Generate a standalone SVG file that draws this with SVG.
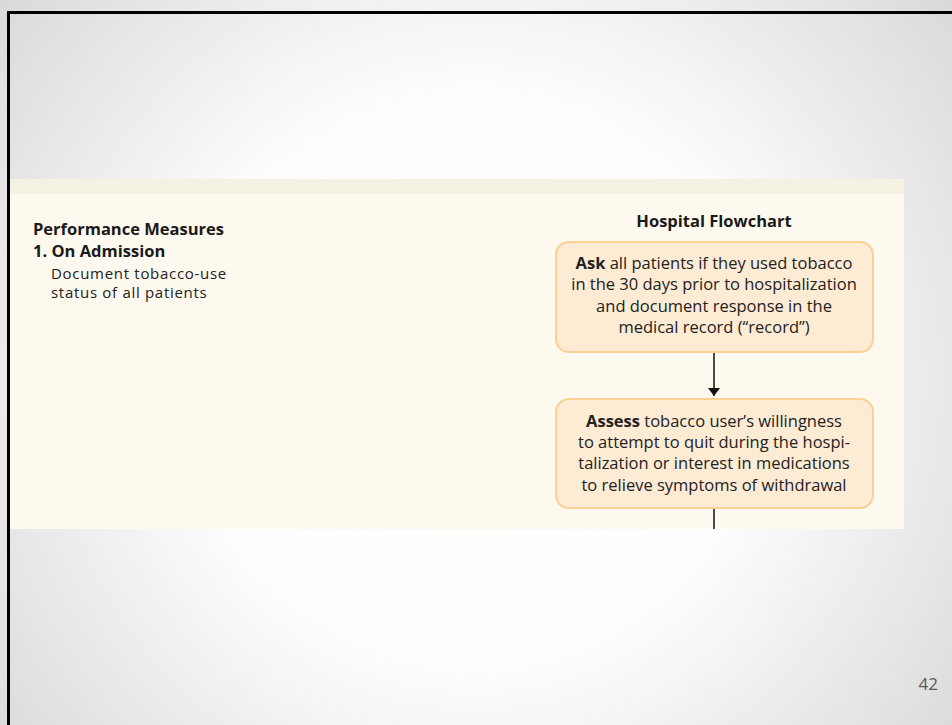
<svg xmlns="http://www.w3.org/2000/svg" width="952" height="725" viewBox="0 0 952 725">
  <defs>
    <radialGradient id="slideBg" gradientUnits="userSpaceOnUse" cx="476" cy="380" r="640">
      <stop offset="0" stop-color="#ffffff"/>
      <stop offset="0.45" stop-color="#fdfdfd"/>
      <stop offset="1" stop-color="#d6d6d6"/>
    </radialGradient>
    <marker id="arrowHead" viewBox="0 0 8 12" refX="8" refY="6" markerWidth="8" markerHeight="12" orient="auto" markerUnits="userSpaceOnUse">
      <path d="M0,0 L12,6 L0,12 Z" transform="scale(0.6667,1)" fill="#111"/>
    </marker>
    <style>
      .heading { font-family: "Open Sans", "Liberation Sans", sans-serif; font-weight: bold; font-size: 16.5px; fill: #1a1a1a; }
      .body { font-family: "Open Sans", "Liberation Sans", sans-serif; font-size: 15px; letter-spacing: 0.7px; fill: #222; }
      .boxText { font-family: "Open Sans", "Liberation Sans", sans-serif; font-size: 16.5px; fill: #222; text-anchor: middle; }
      .box { fill: #fdebd4; stroke: #fbd094; stroke-width: 2; }
      .edge { stroke: #111; stroke-width: 1.5; fill: none; }
    </style>
  </defs>

  <!-- slide background -->
  <rect x="0" y="0" width="952" height="725" fill="url(#slideBg)"/>
  <!-- slide frame, top and left -->
  <rect x="7" y="11" width="945" height="3" fill="#000"/>
  <rect x="7" y="11" width="3" height="714" fill="#000"/>

  <!-- figure panel -->
  <rect x="10" y="179" width="894" height="350" fill="#fdf9ee"/>
  <rect x="10" y="179" width="894" height="15" fill="#f5f2e3"/>

  <!-- left column -->
  <g id="performance-measures">
    <text class="heading" x="33" y="235">Performance Measures</text>
    <text class="heading" x="33" y="257">1. On Admission</text>
    <text class="body" x="51" y="279">Document tobacco-use</text>
    <text class="body" x="51" y="298">status of all patients</text>
  </g>

  <text class="heading" x="714" y="227" text-anchor="middle">Hospital Flowchart</text>

  <g id="ask">
    <rect class="box" x="556" y="242" width="317" height="110" rx="13"/>
    <text class="boxText" x="714" y="269"><tspan font-weight="bold">Ask</tspan> all patients if they used tobacco</text>
    <text class="boxText" x="714" y="290">in the 30 days prior to hospitalization</text>
    <text class="boxText" x="714" y="312">and document response in the</text>
    <text class="boxText" x="714" y="333">medical record (“record”)</text>
  </g>

  <g id="assess">
    <rect class="box" x="556" y="399" width="317" height="109" rx="13"/>
    <text class="boxText" x="714" y="427"><tspan font-weight="bold">Assess</tspan> tobacco user’s willingness</text>
    <text class="boxText" x="714" y="448">to attempt to quit during the hospi-</text>
    <text class="boxText" x="714" y="469">talization or interest in medications</text>
    <text class="boxText" x="714" y="491">to relieve symptoms of withdrawal</text>
  </g>

  <g id="connectors">
    <line class="edge" x1="714" y1="353" x2="714" y2="396" marker-end="url(#arrowHead)"/>
    <line class="edge" x1="714" y1="509" x2="714" y2="529"/>
  </g>

  <text x="938" y="690" text-anchor="end" font-family="'Open Sans', 'Liberation Sans', sans-serif" font-size="17" fill="#595959">42</text>
</svg>
